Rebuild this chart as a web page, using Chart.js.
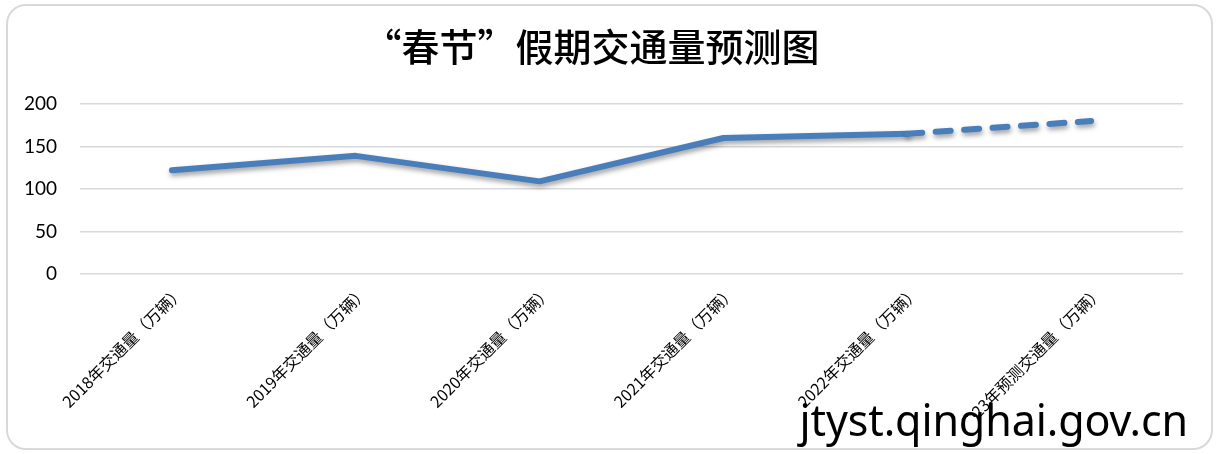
<!DOCTYPE html>
<html>
<head>
<meta charset="utf-8">
<script src="https://cdn.jsdelivr.net/npm/chart.js@4.4.1/dist/chart.umd.min.js"></script>
<style>
  html, body { margin:0; padding:0; background:#fff; }
  #wrap { position:relative; width:1220px; height:454px; overflow:hidden; }
  #frame { position:absolute; left:6px; top:4px; width:1203px; height:442px;
           border:2px solid #d9d9d9; border-radius:20px; box-sizing:content-box; }
  #c { position:absolute; left:0; top:0; }
  #wmbg { position:absolute; left:796px; top:417px; width:392px; height:29px; background:#fff; }
  #wm { position:absolute; right:32px; top:403px; font-family:"Noto Sans", sans-serif;
        font-size:43px; line-height:34px; color:#000; white-space:nowrap; letter-spacing:-0.1px; }
</style>
</head>
<body>
<div id="wrap">
  <div id="frame"></div>
  <canvas id="c" width="1220" height="454"></canvas>
  <div id="wmbg"></div>
  <div id="wm">jtyst.qinghai.gov.cn</div>
</div>
<script>
const titleText = '“春节”假期交通量预测图';
const categories = [
  '2018年交通量（万辆）',
  '2019年交通量（万辆）',
  '2020年交通量（万辆）',
  '2021年交通量（万辆）',
  '2022年交通量（万辆）',
  '2023年预测交通量（万辆）'
];
const trafficValues = [122, 139, 109, 160, 165, 180];
const isForecast = [false, false, false, false, false, true];
const yTicks = [0, 50, 100, 150, 200];

const shadowPlugin = {
  id: 'lineShadow',
  beforeDatasetDraw(chart) {
    const ctx = chart.ctx;
    ctx.save();
    ctx.shadowColor = 'rgba(0,0,0,0.38)';
    ctx.shadowBlur = 5;
    ctx.shadowOffsetX = 1;
    ctx.shadowOffsetY = 3;
  },
  afterDatasetDraw(chart) {
    chart.ctx.restore();
  }
};

new Chart(document.getElementById('c'), {
  type: 'line',
  data: {
    labels: categories,
    datasets: [{
      data: trafficValues,
      borderColor: 'rgb(74,126,187)',
      borderWidth: 6,
      borderCapStyle: 'round',
      borderJoinStyle: 'round',
      pointRadius: 0,
      pointHoverRadius: 0,
      tension: 0,
      fill: false,
      segment: {
        borderDash: ctx => isForecast[ctx.p1DataIndex] ? [15, 13.5] : undefined
      }
    }]
  },
  options: {
    responsive: false,
    animation: false,
    devicePixelRatio: 1,
    layout: { padding: { left: 0, right: 37, top: 0, bottom: 0 } },
    plugins: {
      legend: { display: false },
      tooltip: { enabled: false },
      title: {
        display: true,
        text: titleText,
        color: '#000',
        font: { family: '"Noto Sans CJK SC", sans-serif', size: 38, weight: '500', lineHeight: 1.2 },
        padding: { top: 24, bottom: 34.4 }
      }
    },
    scales: {
      x: {
        offset: true,
        grid: { display: false, drawTicks: false },
        border: { display: false },
        ticks: {
          color: '#000',
          autoSkip: false,
          maxRotation: 45,
          minRotation: 45,
          padding: 8,
          labelOffset: 9,
          font: { family: '"Noto Sans CJK SC", sans-serif', size: 16 }
        },
        afterFit(s) { s.height = 180; }
      },
      y: {
        min: 0,
        max: 200,
        afterBuildTicks(s) { s.ticks = yTicks.map(v => ({ value: v })); },
        grid: { color: '#d9d9d9', lineWidth: 1.4, drawTicks: false },
        border: { display: false },
        ticks: {
          color: '#000',
          padding: 23,
          font: { family: 'Lato, "Open Sans", sans-serif', size: 19 }
        },
        afterFit(s) { s.width = 80; }
      }
    }
  },
  plugins: [shadowPlugin]
});
</script>
</body>
</html>
